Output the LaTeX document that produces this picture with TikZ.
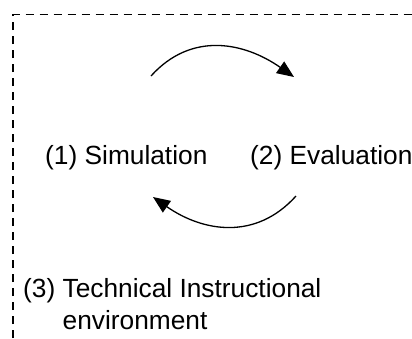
\documentclass[tikz,border=0pt]{standalone}
\usepackage{fontspec}
\setmainfont{Liberation Sans}
\usetikzlibrary{arrows.meta}
\begin{document}
\begin{tikzpicture}[x=1pt,y=1pt,
  lbl/.style={inner sep=0pt,anchor=base west,font=\fontsize{26.3}{32}\selectfont,align=left},
  cyc/.style={line width=1.3pt,-{Triangle[length=17pt,width=14pt]}},
  frame/.style={line width=1.3pt,dash pattern=on 8pt off 6pt}]
\useasboundingbox (0,0) rectangle (412,-338);
\draw[frame] (13,-338) -- (13,-14.5) -- (420,-14.5);
\node[lbl] (sim) at (45,-164) {(1) Simulation};
\node[lbl] (eval) at (250,-164) {(2) Evaluation};
\node[lbl] (env) at (23,-329) {(3) Technical Instructional\\\hphantom{(3)}\ environment};
\coordinate (a1) at (151,-76);
\coordinate (a2) at (294,-77);
\coordinate (b1) at (296,-196);
\coordinate (b2) at (153,-197);
\draw[cyc] (a1) to[out=48,in=145,looseness=1.08] (a2);
\draw[cyc] (b1) to[out=-132,in=-35,looseness=1.08] (b2);
\end{tikzpicture}
\end{document}
